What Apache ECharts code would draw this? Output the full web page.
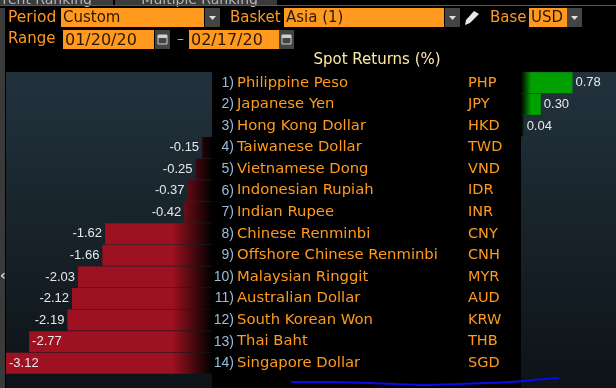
<!DOCTYPE html>
<html><head><meta charset="utf-8">
<style>html,body{margin:0;padding:0;background:#000}#c{width:616px;height:388px}</style>
<script src="https://cdn.jsdelivr.net/npm/echarts@6/dist/echarts.min.js"></script>
</head><body><div id="c"></div>
<script>
const ranks = ['1)','2)','3)','4)','5)','6)','7)','8)','9)','10)','11)','12)','13)','14)'];
const names = ['Philippine Peso','Japanese Yen','Hong Kong Dollar','Taiwanese Dollar','Vietnamese Dong','Indonesian Rupiah','Indian Rupee','Chinese Renminbi','Offshore Chinese Renminbi','Malaysian Ringgit','Australian Dollar','South Korean Won','Thai Baht','Singapore Dollar'];
const codes = ['PHP','JPY','HKD','TWD','VND','IDR','INR','CNY','CNH','MYR','AUD','KRW','THB','SGD'];
const returns = [0.78,0.30,0.04,-0.15,-0.25,-0.37,-0.42,-1.62,-1.66,-2.03,-2.12,-2.19,-2.77,-3.12];
const gains = returns.map(v => v > 0 ? v : null);
const losses = returns.map(v => v < 0 ? v : null);

const FONT = 'DejaVu Sans';
const NARROW = '"Liberation Sans Narrow","Liberation Sans"';
const ORANGE = '#ff9a1f';
const grad = (x, x2, stops) => new echarts.graphic.LinearGradient(x, 0, x2, 0, stops, true);
const panel = new echarts.graphic.LinearGradient(0, 0, 0, 1, [{offset:0,color:'#22323d'},{offset:1,color:'#0d1317'}]);
const label = (t,x,y,extra) => ({type:'text',x,y,style:Object.assign({text:t,fill:ORANGE,font:'15px '+FONT,textVerticalAlign:'middle'},extra||{})});
const box = (x,y,w,h,fill) => ({type:'rect',shape:{x,y,width:w,height:h},style:{fill},silent:true});
const field = (x,y,w,h,t,size) => [box(x,y,w,h,ORANGE),{type:'text',x:x+2,y:y+h/2+1,style:{text:t,fill:'#2a1a05',font:(size||15)+'px '+FONT,textVerticalAlign:'middle'}}];
const arrow = (x,y) => [box(x,y,15,19,'#444444'),{type:'polygon',shape:{points:[[x+4,y+8],[x+11,y+8],[x+7.5,y+12]]},style:{fill:'#e0e0e0'}}];
const cal = (x,y) => [box(x,y,15,19,'#444444'),{type:'rect',shape:{x:x+3,y:y+5,width:9,height:9},style:{fill:'none',stroke:'#d0d0d0',lineWidth:1}},box(x+3,y+5,9,3,'#d0d0d0')];

const chart = echarts.init(document.getElementById('c'), null, {renderer:'canvas'});
chart.setOption({
  animation:false,
  backgroundColor:'#000',
  graphic:{elements:[
    box(0,0,113,5,'#3b3b3b'),
    box(115,0,162,5,'#3b3b3b'),
    {type:'text',x:92,y:0,style:{text:'Current Ranking',fill:'#b5b5b5',font:'14px '+FONT,textAlign:'right',textVerticalAlign:'middle'}},
    {type:'text',x:258,y:0,style:{text:'Multiple Ranking',fill:'#b5b5b5',font:'14px '+FONT,textAlign:'right',textVerticalAlign:'middle'}},
    box(0,5,616,1,'#5a5a5a'),
    box(0,8,5,380,'#3a3a3a'),
    {type:'text',x:0,y:276,style:{text:'‹',fill:'#d8d8d8',font:'bold 14px '+FONT,textVerticalAlign:'middle'}},
    {type:'rect',shape:{x:6,y:72,width:206,height:316},style:{fill:panel},silent:true},
    {type:'rect',shape:{x:521,y:72,width:95,height:316},style:{fill:panel},silent:true},
    label('Period',8,18,{font:'15.5px '+FONT}),
    ...field(61,8,143,19,'Custom'), ...arrow(205,8),
    label('Basket',230,18),
    ...field(284,8,160,19,'Asia (1)'), ...arrow(445,8),
    {type:'polygon',shape:{points:[[465,25],[466,20],[474,11],[479,14],[470,23]]},style:{fill:'#e8e8e8'}},
    label('Base',490,18),
    ...field(529,8,38,19,'USD'), ...arrow(567,8),
    label('Range',8,39),
    ...field(63,30,91,19,'01/20/20',16), ...cal(155,30),
    label('–',177,39,{font:'14px '+FONT}),
    ...field(189,30,90,19,'02/17/20',16), ...cal(279,30),
    {type:'text',x:377,y:60,style:{text:'Spot Returns (%)',fill:'#ffe9a8',font:'15px '+FONT,textAlign:'center',textVerticalAlign:'middle'}},
    {type:'polyline',shape:{points:[[291,382],[330,382],[370,383],[420,385],[460,384],[510,382],[545,379],[559,378]],smooth:0.3},style:{stroke:'#0a0aee',fill:'none',lineWidth:2}}
  ]},
  grid:[
    {left:6,width:206,top:72,height:302},
    {left:521,width:95,top:72,height:302}
  ],
  xAxis:[
    {gridIndex:0,type:'value',min:-3.12,max:0,show:false},
    {gridIndex:1,type:'value',min:0,max:1.44,show:false}
  ],
  yAxis:[
    {gridIndex:0,type:'category',inverse:true,data:ranks,position:'right',offset:22,
     axisLine:{show:false},axisTick:{show:false},
     axisLabel:{margin:0,align:'right',color:'#9dbbd8',fontFamily:NARROW,fontSize:14}},
    {gridIndex:0,type:'category',inverse:true,data:names,position:'right',offset:25,
     axisLine:{show:false},axisTick:{show:false},
     axisLabel:{margin:0,align:'left',color:ORANGE,fontFamily:FONT,fontSize:14.8}},
    {gridIndex:1,type:'category',inverse:true,data:codes,position:'left',offset:53,
     axisLine:{show:false},axisTick:{show:false},
     axisLabel:{margin:0,align:'left',color:ORANGE,fontFamily:FONT,fontSize:14.5}}
  ],
  series:[
    {type:'bar',xAxisIndex:0,yAxisIndex:0,
     data:losses.map(v => v !== null && v < -2.5 ? {value:v,label:{position:'insideLeft'}} : v),
     barWidth:21,
     itemStyle:{color:grad(172,212,[{offset:0,color:'#9e1120'},{offset:1,color:'#000'}])},
     label:{show:true,position:'left',distance:3,color:'#e8e8e8',fontFamily:NARROW,fontSize:13,
       formatter:p=>p.value.toFixed(2)}},
    {type:'bar',xAxisIndex:1,yAxisIndex:2,data:gains,barWidth:21,
     itemStyle:{color:grad(521,531,[{offset:0,color:'#000'},{offset:1,color:'#00a000'}])},
     label:{show:true,position:'right',distance:3,color:'#e8e8e8',fontFamily:NARROW,fontSize:13,
       formatter:p=>p.value.toFixed(2)}}
  ]
});
</script></body></html>
